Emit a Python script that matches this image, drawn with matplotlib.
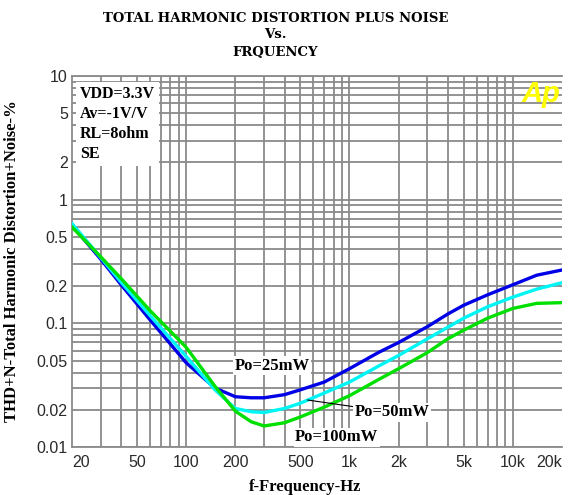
import matplotlib
matplotlib.use("Agg")
import matplotlib.pyplot as plt
from matplotlib.ticker import FixedLocator, FixedFormatter, NullFormatter

# ---------------- data ----------------
freq_hz = [20, 30, 40, 60, 100, 150, 200, 250, 300, 400, 500, 700, 1000, 1500,
           2000, 3000, 4000, 5000, 7000, 10000, 14000, 20000]
thd_25mw = [0.62, 0.33, 0.205, 0.107, 0.048, 0.030, 0.0255, 0.025, 0.025, 0.0265,
            0.029, 0.0335, 0.043, 0.058, 0.070, 0.094, 0.119, 0.140, 0.170, 0.205,
            0.245, 0.270]
thd_50mw = [0.64, 0.34, 0.215, 0.116, 0.054, 0.029, 0.0205, 0.0193, 0.019, 0.0205,
            0.0226, 0.0273, 0.0335, 0.045, 0.055, 0.075, 0.093, 0.110, 0.136, 0.163,
            0.189, 0.213]
thd_100mw = [0.60, 0.345, 0.23, 0.127, 0.064, 0.031, 0.0195, 0.016, 0.0148, 0.0157,
             0.0175, 0.021, 0.026, 0.035, 0.043, 0.058, 0.075, 0.088, 0.110, 0.132,
             0.145, 0.147]

x_tick_vals = [20, 50, 100, 200, 500, 1000, 2000, 5000, 10000, 20000]
x_tick_labels = ["20", "50", "100", "200", "500", "1k", "2k", "5k", "10k", "20k"]
x_grid_vals = [30, 40, 50, 60, 70, 80, 90, 100, 200, 300, 400, 500, 600, 700, 800,
               900, 1000, 2000, 3000, 4000, 5000, 6000, 7000, 8000, 9000, 10000]
y_tick_vals = [0.01, 0.02, 0.05, 0.1, 0.2, 0.5, 1, 2, 5, 10]
y_tick_labels = ["0.01", "0.02", "0.05", "0.1", "0.2", "0.5", "1", "2", "5", "10"]
y_grid_vals = [m * d for d in (0.01, 0.1, 1) for m in range(1, 10)] + [10]

# ---------------- figure ----------------
fig = plt.figure(figsize=(5.68, 4.95), dpi=100)
ax = fig.add_axes([72 / 568, 1 - 447 / 495, (562 - 72) / 568, (447 - 76) / 495])
ax.set_xscale("log")
ax.set_yscale("log")
ax.set_xlim(20, 20000)
ax.set_ylim(0.01, 10)

gridc = "#8a8a8a"
ax.xaxis.set_major_locator(FixedLocator(x_tick_vals))
ax.xaxis.set_major_formatter(FixedFormatter(x_tick_labels))
ax.xaxis.set_minor_locator(FixedLocator(x_grid_vals))
ax.xaxis.set_minor_formatter(NullFormatter())
ax.xaxis.remove_overlapping_locs = False
ax.yaxis.set_major_locator(FixedLocator(y_tick_vals))
ax.yaxis.set_major_formatter(FixedFormatter(y_tick_labels))
ax.yaxis.set_minor_locator(FixedLocator(y_grid_vals))
ax.yaxis.set_minor_formatter(NullFormatter())
ax.yaxis.remove_overlapping_locs = False

ax.grid(False)
ax.xaxis.grid(True, which="minor", color=gridc, lw=1.3)
ax.yaxis.grid(True, which="minor", color=gridc, lw=1.3)
ax.tick_params(which="both", length=0)
ax.tick_params(axis="x", pad=6, labelsize=11.5, labelcolor="#2a2a2a")
ax.tick_params(axis="y", pad=3, labelsize=11.5, labelcolor="#2a2a2a")
for lab in ax.get_xticklabels():
    lab.set_fontfamily("Liberation Sans")
for lab in ax.get_yticklabels():
    lab.set_fontfamily("Liberation Sans")
xl = ax.get_xticklabels()
xl[0].set_horizontalalignment("left")
xl[-1].set_horizontalalignment("right")

for s in ["left", "bottom", "top"]:
    ax.spines[s].set_color(gridc)
    ax.spines[s].set_linewidth(1.3)
ax.spines["right"].set_visible(False)

ax.plot(freq_hz, thd_25mw, color="#0000e6", lw=2.4, zorder=3)
ax.plot(freq_hz, thd_50mw, color="#00f5f5", lw=2.4, zorder=3)
ax.plot(freq_hz, thd_100mw, color="#00e000", lw=2.4, zorder=3)

serif = "Liberation Serif"
ax.text(0.016, 0.972, "VDD=3.3V\nAv=-1V/V\nRL=8ohm\nSE", transform=ax.transAxes,
        ha="left", va="top", fontsize=11.5, fontweight="bold", family=serif,
        linespacing=1.32, zorder=4,
        bbox=dict(facecolor="white", edgecolor="none", pad=3))

lab_kw = dict(fontsize=12, fontweight="bold", family=serif, zorder=5,
              bbox=dict(facecolor="white", edgecolor="none", pad=1))
ax.text(336, 0.0455, "Po=25mW", ha="center", va="center", **lab_kw)
ax.text(836, 0.0120, "Po=100mW", ha="center", va="center", **lab_kw)
ax.annotate("Po=50mW", xy=(553, 0.0240), xytext=(1070, 0.0191),
            ha="left", va="center",
            arrowprops=dict(arrowstyle="-", color="black", lw=0.8,
                            shrinkA=0, shrinkB=0), **lab_kw)

ax.text(0.997, 0.99, "Ap", transform=ax.transAxes, ha="right", va="top",
        color="#ffff00", fontsize=21, fontweight="bold", style="italic",
        family="Liberation Sans", zorder=5)

ax.set_xlabel("f-Frequency-Hz", fontsize=12, fontweight="bold", family=serif,
              labelpad=4)
ax.xaxis.set_label_coords((305 - 72) / 490, -0.085)
ax.set_ylabel("THD+N-Total Harmonic Distortion+Noise-%", fontsize=12,
              fontweight="bold", family=serif, labelpad=6)
ax.yaxis.set_label_coords(-(72 - 20) / 490, 0.5)

fig.text(0.485, 1 - 18 / 495, "TOTAL HARMONIC DISTORTION PLUS NOISE", ha="center",
         va="center", fontsize=9.5, fontweight="bold", family="DejaVu Serif")
fig.text(0.485, 1 - 34 / 495, "Vs.", ha="center", va="center", fontsize=9.5,
         fontweight="bold", family="DejaVu Serif")
fig.text(0.485, 1 - 53 / 495, "FRQUENCY", ha="center", va="center", fontsize=9.5,
         fontweight="bold", family="DejaVu Serif")

fig.savefig("out.png", dpi=100, facecolor="white")
